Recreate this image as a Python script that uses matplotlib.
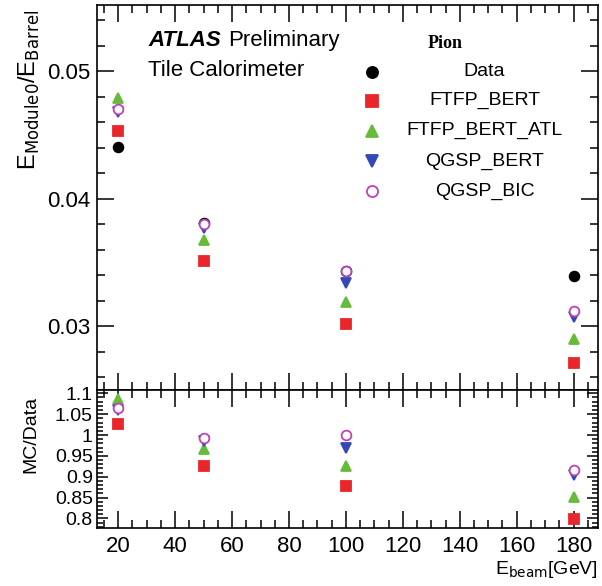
import numpy as np
import matplotlib
matplotlib.use("Agg")
import matplotlib.pyplot as plt
from matplotlib.ticker import MultipleLocator

plt.rcParams['font.family'] = ['Liberation Sans', 'DejaVu Sans']

# beam energies [GeV]
energy = [20, 50, 100, 180]

# E_Module0 / E_Barrel
data = [0.04406, 0.03808, 0.03434, 0.03395]
ftfp_bert = [0.0453, 0.0351, 0.03016, 0.02707]
ftfp_bert_atl = [0.0479, 0.03675, 0.03186, 0.02896]
qgsp_bert = [0.0468, 0.0377, 0.03335, 0.03073]
qgsp_bic = [0.0470, 0.0380, 0.03434, 0.03118]
err = [0.0003, 0.0002, 0.0001, 0.0001]

# MC / Data
r_ftfp_bert = [1.026, 0.926, 0.877, 0.798]
r_ftfp_bert_atl = [1.087, 0.966, 0.925, 0.851]
r_qgsp_bert = [1.059, 0.985, 0.969, 0.903]
r_qgsp_bic = [1.064, 0.994, 0.999, 0.915]
r_err = [0.008, 0.006, 0.003, 0.003]

series = [
    ("Data", data, None, dict(marker='o', color='black', mfc='black')),
    ("FTFP_BERT", ftfp_bert, r_ftfp_bert, dict(marker='s', color='#e8262b', mfc='#e8262b')),
    ("FTFP_BERT_ATL", ftfp_bert_atl, r_ftfp_bert_atl, dict(marker='^', color='#66bb3a', mfc='#66bb3a')),
    ("QGSP_BERT", qgsp_bert, r_qgsp_bert, dict(marker='v', color='#3548b8', mfc='#3548b8')),
    ("QGSP_BIC", qgsp_bic, r_qgsp_bic, dict(marker='o', color='#c040b8', mfc='white')),
]

fig = plt.figure(figsize=(6.02, 5.86), dpi=100)
ax = fig.add_axes([0.161, 0.3345, 0.832, 0.657])
axr = fig.add_axes([0.161, 0.099, 0.832, 0.2355], sharex=ax)

for name, vals, ratio, st in series:
    ax.errorbar(energy, vals, yerr=err, ls='none', ms=7, mew=1.3, elinewidth=1.2,
                capsize=0, mec=st['color'], **st)
    if ratio is not None:
        axr.errorbar(energy, ratio, yerr=r_err, ls='none', ms=7, mew=1.3, elinewidth=1.2,
                     capsize=0, mec=st['color'], **st)

ax.set_xlim(12.5, 188.5)
ax.set_ylim(0.02498, 0.0552)
axr.set_ylim(0.777, 1.108)

for a in (ax, axr):
    a.tick_params(which='both', direction='in', top=True, right=True, width=1.1)
    a.tick_params(which='major', length=12)
    a.tick_params(which='minor', length=6)
    for sp in a.spines.values():
        sp.set_linewidth(1.2)
    a.xaxis.set_major_locator(MultipleLocator(20))
    a.xaxis.set_minor_locator(MultipleLocator(5))

ax.yaxis.set_major_locator(MultipleLocator(0.01))
ax.yaxis.set_minor_locator(MultipleLocator(0.002))
ax.tick_params(axis='y', labelsize=16, pad=5)
ax.tick_params(axis='x', labelbottom=False)
ax.yaxis.set_major_formatter(plt.FormatStrFormatter('%.2f'))

axr.yaxis.set_major_locator(MultipleLocator(0.05))
axr.yaxis.set_minor_locator(MultipleLocator(0.01))
axr.tick_params(axis='y', which='major', length=8, labelsize=14, pad=3)
axr.tick_params(axis='y', which='minor', length=4)
axr.tick_params(axis='x', labelsize=16, pad=6)
axr.yaxis.set_major_formatter(plt.FuncFormatter(lambda v, p: ('%.2f' % v).rstrip('0').rstrip('.')))

ax.set_ylabel(r'E$_{\rm Module0}$/E$_{\rm Barrel}$', fontsize=17, loc='top')
ax.yaxis.set_label_coords(-0.11, 0.987)
axr.set_ylabel('MC/Data', fontsize=14, loc='top')
axr.yaxis.set_label_coords(-0.114, 0.96)
axr.set_xlabel(r'E$_{\rm beam}$[GeV]', fontsize=14, loc='right', labelpad=1)

# annotations
ax.text(0.102, 0.909, 'ATLAS', transform=ax.transAxes, fontsize=16,
        fontweight='bold', fontstyle='italic', va='center')
ax.text(0.262, 0.909, 'Preliminary', transform=ax.transAxes, fontsize=16, va='center')
ax.text(0.102, 0.831, 'Tile Calorimeter', transform=ax.transAxes, fontsize=16, va='center')
ax.text(0.695, 0.899, 'Pion', transform=ax.transAxes, fontsize=13, fontweight='bold',
        family=['Liberation Serif', 'DejaVu Serif'], va='center', ha='center')

leg_y = [0.826, 0.751, 0.673, 0.595, 0.517]
for (name, vals, ratio, st), yy in zip(series, leg_y):
    ax.plot([0.549], [yy], transform=ax.transAxes, ls='none', ms=8, mew=1.3,
            mec=st['color'], clip_on=False, **st)
    ax.text(0.774, yy, name, transform=ax.transAxes, fontsize=14, ha='center', va='center')

fig.savefig('out.png', dpi=100)
